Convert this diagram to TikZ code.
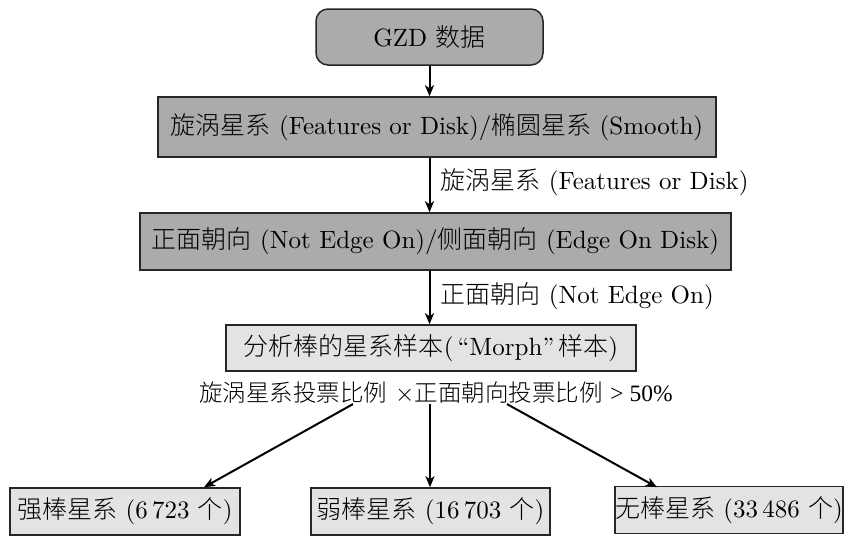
\documentclass[tikz,border=0pt]{standalone}
\usepackage{fontspec}
\setmainfont{lmroman10-regular.otf}
\newfontfamily\cjk{Noto Sans CJK SC Light}
\newfontfamily\timesfont{Liberation Serif}
\usetikzlibrary{arrows.meta,calc}

\begin{document}
\begin{tikzpicture}[x=1pt,y=-1pt,
  font=\fontsize{25}{29}\selectfont,
  darkbox/.style={draw=black!85, fill=black!33, line width=1.5pt, inner sep=0pt},
  lightbox/.style={draw=black!85, fill=black!11, line width=1.5pt, inner sep=0pt},
  arr/.style={-{Stealth[length=11pt,width=9pt,inset=3pt]}, line width=2pt},
  lbl/.style={anchor=west, inner sep=0pt, xshift=10pt}]

\useasboundingbox (0,0) rectangle (845,541);

% main chain of selection steps
\node[darkbox, rounded corners=12pt, minimum width=227pt, minimum height=56pt]
  (src) at (429.5,37) {GZD {\cjk 数据}};
\node[darkbox, minimum width=558pt, minimum height=60pt]
  (shape) at (437,127) {{\cjk 旋涡星系} (Features or Disk)/{\cjk 椭圆星系} (Smooth)};
\node[darkbox, minimum width=591pt, minimum height=57pt]
  (face) at (435.5,241.5) {{\cjk 正面朝向} (Not Edge On)/{\cjk 侧面朝向} (Edge On Disk)};
\node[lightbox, minimum width=410pt, minimum height=46pt]
  (sample) at (431,348) {{\cjk 分析棒的星系样本}(\,``Morph''\,{\cjk 样本})};
\node[inner sep=0pt, font=\fontsize{23.5}{27}\selectfont] (crit) at (436,393)
  {{\cjk 旋涡星系投票比例} $\times${\cjk 正面朝向投票比例} {\timesfont > 50\%}};

% final classes
\node[lightbox, minimum width=230pt, minimum height=47pt]
  (strong) at (125,511.5) {{\cjk 强棒星系} (6\,723 {\cjk 个})};
\node[lightbox, minimum width=239pt, minimum height=47pt]
  (weak) at (430.5,511.5) {{\cjk 弱棒星系} (16\,703 {\cjk 个})};
\node[lightbox, minimum width=228pt, minimum height=47pt]
  (none) at (729,510) {{\cjk 无棒星系} (33\,486 {\cjk 个})};

% connectors
\draw[arr] (src) -- (shape.north -| src);
\draw[arr] (shape.south -| src) -- node[lbl, yshift=3pt] {{\cjk 旋涡星系} (Features or Disk)} (face.north -| src);
\draw[arr] (face.south -| src) -- node[lbl, yshift=1pt] {{\cjk 正面朝向} (Not Edge On)} (sample.north -| src);

\coordinate (ls) at ($(crit.south)+(-83,0)$);
\coordinate (cs) at ($(crit.south)+(-6,0)$);
\coordinate (rs) at ($(crit.south)+(71,0)$);
\draw[arr] (ls) -- ($(strong.north)+(79,0)$);
\draw[arr] (cs) -- (weak.north -| cs);
\draw[arr] (rs) -- ($(none.north)+(-72,1.5)$);

\end{tikzpicture}
\end{document}
